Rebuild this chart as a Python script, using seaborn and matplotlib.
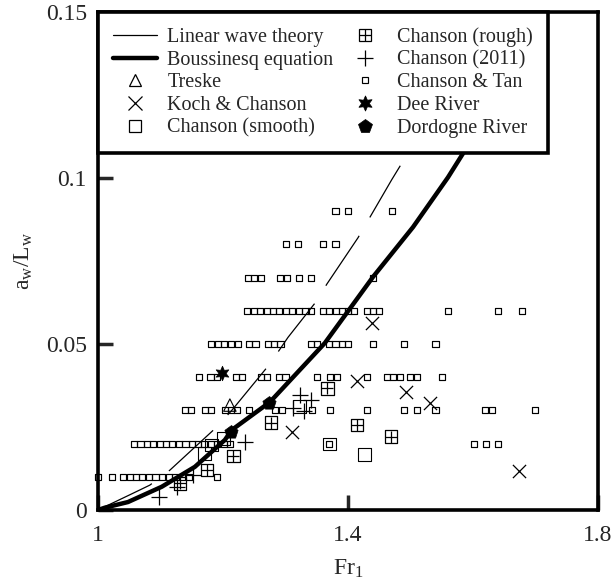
import numpy as np
import pandas as pd
import matplotlib
matplotlib.use("Agg")
import matplotlib.pyplot as plt
import seaborn as sns
from matplotlib.lines import Line2D
from matplotlib.legend_handler import HandlerTuple

# ---------------- data ----------------
linear_fr = [1.0, 1.05, 1.083, 1.115, 1.19, 1.214, 1.275, 1.304, 1.35, 1.366, 1.416, 1.47, 1.496, 1.55, 1.60, 1.64]
linear_a = [0.0, 0.0045, 0.0075, 0.012, 0.025, 0.030, 0.044, 0.052, 0.063, 0.068, 0.082, 0.0995, 0.1075, 0.124, 0.139, 0.152]

bouss_fr = [1.0, 1.011, 1.048, 1.102, 1.155, 1.203, 1.214, 1.275, 1.363, 1.44, 1.504, 1.56, 1.60, 1.65, 1.69, 1.715]
bouss_a = [0.0, 0.0007, 0.0024, 0.0070, 0.0130, 0.0211, 0.0241, 0.0325, 0.0503, 0.0702, 0.0852, 0.1002, 0.1122, 0.128, 0.141, 0.151]

treske_fr = [1.211]
treske_a = [0.0316]

koch_fr = [1.310, 1.415, 1.438, 1.493, 1.531, 1.674]
koch_a = [0.0236, 0.0389, 0.0562, 0.0354, 0.0321, 0.0118]

smooth_fr = [1.170, 1.182, 1.2005, 1.323, 1.370, 1.427]
smooth_a = [0.0169, 0.0196, 0.0216, 0.0311, 0.0199, 0.0168]

rough_fr = [1.131, 1.174, 1.2165, 1.277, 1.367, 1.414, 1.469]
rough_a = [0.0080, 0.0120, 0.0163, 0.0263, 0.0366, 0.0256, 0.0221]

c2011_fr = [1.097, 1.126, 1.1525, 1.235, 1.3125, 1.323, 1.340, 1.330]
c2011_a = [0.0040, 0.0068, 0.0104, 0.0204, 0.0308, 0.0347, 0.0330, 0.0298]

tan_fr_001 = [1.000, 1.022, 1.040, 1.051, 1.061, 1.071, 1.082, 1.092, 1.103, 1.113, 1.124, 1.134, 1.145, 1.191]
tan_fr_002 = [1.058, 1.068, 1.078, 1.088, 1.099, 1.109, 1.119, 1.129, 1.140, 1.150, 1.160, 1.170, 1.181, 1.191,
              1.201, 1.211, 1.370, 1.601, 1.621, 1.640]
tan_fr_003 = [1.139, 1.149, 1.171, 1.181, 1.203, 1.213, 1.222, 1.242, 1.283, 1.294, 1.342, 1.371, 1.431, 1.490,
              1.510, 1.540, 1.619, 1.630, 1.699]
tan_fr_004 = [1.162, 1.180, 1.190, 1.221, 1.231, 1.261, 1.270, 1.290, 1.300, 1.351, 1.371, 1.382, 1.431, 1.462,
              1.472, 1.483, 1.499, 1.510, 1.550]
tan_fr_005 = [1.181, 1.192, 1.202, 1.213, 1.224, 1.242, 1.252, 1.272, 1.282, 1.292, 1.341, 1.351, 1.370, 1.380,
              1.390, 1.400, 1.440, 1.490, 1.540]
tan_fr_006 = [1.238, 1.249, 1.259, 1.270, 1.280, 1.290, 1.301, 1.311, 1.322, 1.332, 1.341, 1.360, 1.370, 1.381,
              1.390, 1.400, 1.410, 1.430, 1.440, 1.450, 1.560, 1.640, 1.678]
tan_fr_007 = [1.240, 1.250, 1.261, 1.291, 1.302, 1.322, 1.341, 1.440]
tan_fr_008 = [1.301, 1.320, 1.360, 1.380]
tan_fr_009 = [1.380, 1.400, 1.470]
tan_levels = [0.01, 0.02, 0.03, 0.04, 0.05, 0.06, 0.07, 0.08, 0.09]

dee_fr = [1.198]
dee_a = [0.0412]

dordogne_fr = [1.213, 1.274]
dordogne_a = [0.0236, 0.0323]

x_ticks = [1.0, 1.4, 1.8]
x_ticklabels = ["1", "1.4", "1.8"]
y_ticks = [0.0, 0.05, 0.1, 0.15]
y_ticklabels = ["0", "0.05", "0.1", "0.15"]

labels = ["Linear wave theory", "Boussinesq equation", "Treske", "Koch & Chanson", "Chanson (smooth)",
          "Chanson (rough)", "Chanson (2011)", "Chanson & Tan", "Dee River", "Dordogne River"]

# ---------------- style ----------------
sns.set_style("ticks")
plt.rcParams["font.family"] = ["Liberation Serif", "DejaVu Serif"]
plt.rcParams["mathtext.fontset"] = "custom"
plt.rcParams["mathtext.rm"] = "Liberation Serif"
plt.rcParams["mathtext.it"] = "Liberation Serif:italic"

fig = plt.figure(figsize=(6.14, 5.85), dpi=100)
ax = fig.add_axes([98 / 614, 1 - 510 / 585, 500 / 614, 498 / 585])

tan_lists = [tan_fr_001, tan_fr_002, tan_fr_003, tan_fr_004, tan_fr_005, tan_fr_006, tan_fr_007,
             tan_fr_008, tan_fr_009]
tan_x = [v for lst in tan_lists for v in lst]
tan_y = [lvl for lvl, lst in zip(tan_levels, tan_lists) for _ in lst]

sns.lineplot(x=linear_fr, y=linear_a, ax=ax, color="black", lw=0.9, sort=False,
             estimator=None, zorder=2)
ax.lines[-1].set_dashes([48, 17])
sns.lineplot(x=bouss_fr, y=bouss_a, ax=ax, color="black", lw=3.2, sort=False, estimator=None, zorder=3)

open_kw = dict(color="black", facecolors="none", edgecolor="black", clip_on=False, legend=False)
sns.scatterplot(x=tan_x, y=tan_y, ax=ax, marker="s", s=19, linewidth=0.85, zorder=4, **open_kw)
sns.scatterplot(x=smooth_fr, y=smooth_a, ax=ax, marker="s", s=85, linewidth=0.8, zorder=4, **open_kw)
sns.scatterplot(x=rough_fr, y=rough_a, ax=ax, marker="s", s=80, linewidth=0.9, zorder=4, **open_kw)
sns.scatterplot(x=rough_fr, y=rough_a, ax=ax, marker="+", s=80, linewidth=0.9, color="black", zorder=4, legend=False)
sns.scatterplot(x=treske_fr, y=treske_a, ax=ax, marker="^", s=80, linewidth=0.8, zorder=4, **open_kw)
sns.scatterplot(x=koch_fr, y=koch_a, ax=ax, marker="x", s=90, linewidth=0.9, color="black", zorder=4, legend=False)
sns.scatterplot(x=c2011_fr, y=c2011_a, ax=ax, marker="+", s=120, linewidth=0.9, color="black", zorder=4, legend=False)
sns.scatterplot(x=dee_fr, y=dee_a, ax=ax, marker=(6, 1, 0), s=110, color="black", edgecolor="black",
                linewidth=0.5, zorder=5, legend=False)
sns.scatterplot(x=dordogne_fr, y=dordogne_a, ax=ax, marker="p", s=100, color="black", edgecolor="black",
                linewidth=0.5, zorder=5, legend=False)

ax.set_xlim(1.0, 1.8)
ax.set_ylim(0.0, 0.15)
ax.set_xticks(x_ticks)
ax.set_xticklabels(x_ticklabels)
ax.set_yticks(y_ticks)
ax.set_yticklabels(y_ticklabels)
ax.tick_params(direction="in", length=11, width=2.5, labelsize=17, top=False, right=False)
ax.tick_params(axis="x", pad=11)
ax.tick_params(axis="y", pad=8)
for sp in ax.spines.values():
    sp.set_linewidth(2.6)
    sp.set_color("black")
ax.set_xlabel(r"Fr$_\mathrm{1}$", fontsize=17, labelpad=8)
ax.set_ylabel(r"a$_\mathrm{w}$/L$_\mathrm{w}$", fontsize=17, labelpad=8)

# ---------------- legend ----------------
def mk(marker, ms, mew=0.9, fill="none", ls="none"):
    return Line2D([], [], color="black", marker=marker, markersize=ms, markeredgewidth=mew,
                  markerfacecolor=fill, linestyle=ls)

handles = [
    Line2D([], [], color="black", lw=0.9),
    Line2D([], [], color="black", lw=3.2),
    mk("^", 9),
    mk("x", 9.5),
    mk("s", 9),
    (mk("s", 9), mk("+", 9)),
    mk("+", 11),
    mk("s", 4.3, mew=0.85),
    mk((6, 1, 0), 11, mew=0.5, fill="black"),
    mk("p", 10, mew=0.5, fill="black"),
]
leg = ax.legend(handles, labels, ncol=2, loc="upper left", bbox_to_anchor=(0, 1), borderaxespad=0,
                fontsize=14.5, frameon=True, fancybox=False, framealpha=1, edgecolor="black",
                handlelength=2.2, handletextpad=0.5, columnspacing=0.45, labelspacing=0.18,
                borderpad=0.75, handler_map={tuple: HandlerTuple(ndivide=1)})
leg.get_frame().set_linewidth(2.6)
leg.set_zorder(10)

fig.savefig("out.png", dpi=100)
